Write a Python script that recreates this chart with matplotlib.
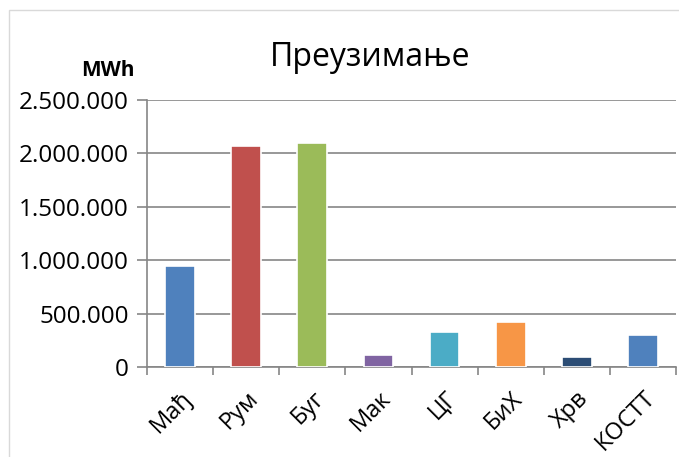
import matplotlib.pyplot as plt
from matplotlib.patches import Rectangle
from matplotlib.ticker import FuncFormatter

# Преузимање по границама, MWh
categories = ['Мађ', 'Рум', 'Буг', 'Мак', 'ЦГ', 'БиХ', 'Хрв', 'КОСТТ']
values = [945000, 2068000, 2097000, 108000, 330000, 422000, 90000, 302000]
colors = ['#4F81BD', '#C0504D', '#9BBB59', '#8064A2', '#4BACC6',
          '#F79646', '#2C4D75', '#4F81BD']
yticks = [0, 500000, 1000000, 1500000, 2000000, 2500000]

plt.rcParams['font.family'] = ['Open Sans', 'DejaVu Sans']
axis_gray = '#868686'


def dotted(v, pos):
    return f'{int(v):,}'.replace(',', '.')


def main():
    fig = plt.figure(figsize=(6.79, 4.57), dpi=100)
    ax = fig.add_axes([0.2165, 0.197, 0.7791, 0.584])

    # outer chart border
    fig.patches.append(Rectangle((9 / 679, -0.1), 1.2, 1 - 10 / 457 + 0.1,
                                 transform=fig.transFigure, fill=False,
                                 edgecolor='#D9D9D9', linewidth=1))

    x = range(len(categories))
    ax.bar(x, values, width=0.45, color=colors, edgecolor='white',
           linewidth=1.2, zorder=3)

    ax.set_xlim(-0.5, len(categories) - 0.5)
    ax.set_ylim(0, 2500000)
    ax.set_yticks(yticks)
    ax.yaxis.set_major_formatter(FuncFormatter(dotted))
    ax.grid(axis='y', color=axis_gray, linewidth=1.2, zorder=0)
    ax.tick_params(axis='y', length=7, width=1.2, color=axis_gray,
                   labelsize=17.5, pad=6)

    ax.set_xticks(list(x))
    ax.set_xticklabels(categories, rotation=45, ha='right',
                       rotation_mode='anchor', fontsize=17)
    ax.set_xticks([i + 0.5 for i in range(-1, len(categories))], minor=True)
    ax.tick_params(axis='x', which='major', length=0, pad=14)
    ax.tick_params(axis='x', which='minor', length=6, width=1.2,
                   color=axis_gray)

    for side in ['top', 'right']:
        ax.spines[side].set_visible(False)
    ax.spines['left'].set_color(axis_gray)
    ax.spines['left'].set_linewidth(1.2)
    ax.spines['bottom'].set_color(axis_gray)
    ax.spines['bottom'].set_linewidth(1.2)

    fig.text(370 / 679, 1 - 57 / 457, 'Преузимање', fontsize=23,
             ha='center', va='center')
    fig.text(108 / 679, 1 - 70 / 457, 'MWh', fontsize=15,
             fontweight='bold', ha='center', va='center')

    fig.savefig('out.png', dpi=100)


if __name__ == "__main__":
    main()
